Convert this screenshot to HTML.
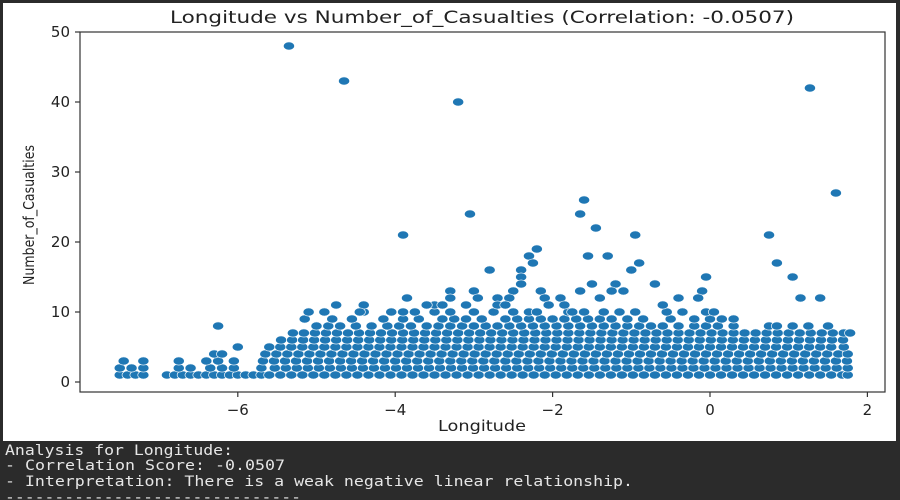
<!DOCTYPE html>
<html><head><meta charset="utf-8"><style>
html,body{margin:0;padding:0;width:900px;height:500px;overflow:hidden;background:#2b2b2b}
svg{display:block}
</style></head><body>
<svg width="900" height="500" viewBox="0 0 900 500" xmlns="http://www.w3.org/2000/svg">
<rect x="0" y="0" width="900" height="500" fill="#2b2b2b"/>
<rect x="3" y="3" width="893" height="438" fill="#ffffff"/>
<text x="170" y="23" textLength="624" lengthAdjust="spacingAndGlyphs" font-family="DejaVu Sans, Liberation Sans, sans-serif" font-size="17" fill="#222">Longitude vs Number_of_Casualties (Correlation: -0.0507)</text>
<g id="points"></g>
<rect x="80" y="32" width="805" height="360" fill="none" stroke="#333" stroke-width="1.2"/>
<g id="axes"></g>
<text x="438" y="431" textLength="88" lengthAdjust="spacingAndGlyphs" font-family="DejaVu Sans, Liberation Sans, sans-serif" font-size="15" fill="#222">Longitude</text>
<text transform="translate(34,285) rotate(-90)" textLength="140" lengthAdjust="spacingAndGlyphs" font-family="DejaVu Sans, Liberation Sans, sans-serif" font-size="15" fill="#222">Number_of_Casualties</text>
<g font-family="DejaVu Sans Mono, Liberation Mono, monospace" font-size="14" fill="#e6e6e6">
<text x="5" y="455" textLength="228" lengthAdjust="spacingAndGlyphs">Analysis for Longitude:</text>
<text x="5" y="470" textLength="280" lengthAdjust="spacingAndGlyphs">- Correlation Score: -0.0507</text>
<text x="5" y="486" textLength="628" lengthAdjust="spacingAndGlyphs">- Interpretation: There is a weak negative linear relationship.</text>
<text x="5" y="502" textLength="296" lengthAdjust="spacingAndGlyphs">------------------------------</text>
</g>
</svg>
<script>
const xTicks=[-6,-4,-2,0,2];
const yTicks=[0,10,20,30,40,50];
const row1=[-7.5,-7.4,-7.3,-7.2,-6.9,-6.8,-6.7,-6.6,-6.5,-6.4,-6.3,-6.2,-6.1,-6.0,-5.9,-5.8,-5.7,-5.6,-5.46,-5.32,-5.18,-5.04,-4.9,-4.76,-4.62,-4.48,-4.34,-4.2,-4.06,-3.92,-3.78,-3.64,-3.5,-3.36,-3.22,-3.08,-2.94,-2.8,-2.66,-2.52,-2.38,-2.24,-2.1,-1.96,-1.82,-1.68,-1.54,-1.4,-1.26,-1.12,-0.98,-0.84,-0.7,-0.56,-0.42,-0.28,-0.14,0,0.14,0.28,0.42,0.56,0.7,0.84,0.98,1.12,1.26,1.4,1.54,1.68,1.75];
const row2=[-7.5,-7.35,-7.2,-6.75,-6.6,-6.35,-6.2,-6.05,-5.7,-5.53,-5.39,-5.25,-5.11,-4.97,-4.83,-4.69,-4.55,-4.41,-4.27,-4.13,-3.99,-3.85,-3.71,-3.57,-3.43,-3.29,-3.15,-3.01,-2.87,-2.73,-2.59,-2.45,-2.31,-2.17,-2.03,-1.89,-1.75,-1.61,-1.47,-1.33,-1.19,-1.05,-0.91,-0.77,-0.63,-0.49,-0.35,-0.21,-0.07,0.07,0.21,0.35,0.49,0.63,0.77,0.91,1.05,1.19,1.33,1.47,1.61,1.75];
const row3=[-7.45,-7.2,-6.75,-6.4,-6.25,-6.05,-5.68,-5.54,-5.4,-5.26,-5.12,-4.98,-4.84,-4.7,-4.56,-4.42,-4.28,-4.14,-4.0,-3.86,-3.72,-3.58,-3.44,-3.3,-3.16,-3.02,-2.88,-2.74,-2.6,-2.46,-2.32,-2.18,-2.04,-1.9,-1.76,-1.62,-1.48,-1.34,-1.2,-1.06,-0.92,-0.78,-0.64,-0.5,-0.36,-0.22,-0.08,0.06,0.2,0.34,0.48,0.62,0.76,0.9,1.04,1.18,1.32,1.46,1.6,1.74];
const row4=[-6.3,-6.2,-5.65,-5.51,-5.37,-5.23,-5.09,-4.95,-4.81,-4.67,-4.53,-4.39,-4.25,-4.11,-3.97,-3.83,-3.69,-3.55,-3.41,-3.27,-3.13,-2.99,-2.85,-2.71,-2.57,-2.43,-2.29,-2.15,-2.01,-1.87,-1.73,-1.59,-1.45,-1.31,-1.17,-1.03,-0.89,-0.75,-0.61,-0.47,-0.33,-0.19,-0.05,0.09,0.23,0.37,0.51,0.65,0.79,0.93,1.07,1.21,1.35,1.49,1.63,1.75];
const row5=[-6.0,-5.6,-5.46,-5.32,-5.18,-5.04,-4.9,-4.76,-4.62,-4.48,-4.34,-4.2,-4.06,-3.92,-3.78,-3.64,-3.5,-3.36,-3.22,-3.08,-2.94,-2.8,-2.66,-2.52,-2.38,-2.24,-2.1,-1.96,-1.82,-1.68,-1.54,-1.4,-1.26,-1.12,-0.98,-0.84,-0.7,-0.56,-0.42,-0.28,-0.14,0,0.14,0.28,0.42,0.56,0.7,0.84,0.98,1.12,1.26,1.4,1.54,1.7];
const row6=[-5.45,-5.31,-5.17,-5.03,-4.89,-4.75,-4.61,-4.47,-4.33,-4.19,-4.05,-3.91,-3.77,-3.63,-3.49,-3.35,-3.21,-3.07,-2.93,-2.79,-2.65,-2.51,-2.37,-2.23,-2.09,-1.95,-1.81,-1.67,-1.53,-1.39,-1.25,-1.11,-0.97,-0.83,-0.69,-0.55,-0.41,-0.27,-0.13,0.01,0.15,0.29,0.43,0.57,0.71,0.85,0.99,1.13,1.27,1.41,1.55,1.69];
const row7=[-5.3,-5.16,-5.02,-4.88,-4.74,-4.6,-4.46,-4.32,-4.18,-4.04,-3.9,-3.76,-3.62,-3.48,-3.34,-3.2,-3.06,-2.92,-2.78,-2.64,-2.5,-2.36,-2.22,-2.08,-1.94,-1.8,-1.66,-1.52,-1.38,-1.24,-1.1,-0.96,-0.82,-0.68,-0.54,-0.4,-0.26,-0.12,0.02,0.16,0.3,0.44,0.58,0.72,0.86,1.0,1.14,1.28,1.42,1.56,1.7,1.78];
const row8=[-6.25,-5.0,-4.85,-4.7,-4.5,-4.3,-4.1,-3.95,-3.8,-3.6,-3.45,-3.3,-3.15,-3.0,-2.85,-2.7,-2.55,-2.4,-2.25,-2.1,-1.95,-1.8,-1.65,-1.5,-1.35,-1.2,-1.05,-0.9,-0.75,-0.6,-0.4,-0.2,-0.05,0.1,0.3,0.75,0.85,1.05,1.25,1.5];
const row9=[-5.15,-4.8,-4.55,-4.15,-3.9,-3.7,-3.4,-3.25,-3.1,-2.9,-2.6,-2.45,-2.3,-2.15,-2.0,-1.85,-1.7,-1.55,-1.4,-1.25,-1.05,-0.85,-0.5,-0.2,0.0,0.15,0.3];
const row10=[-5.1,-4.9,-4.4,-4.05,-3.9,-3.75,-3.5,-3.3,-3.0,-2.75,-2.5,-2.3,-2.2,-1.8,-1.6,-1.35,-1.15,-0.95,-0.55,-0.35,-0.05,0.05];
const outX=[-5.35,-4.65,-3.2,1.27,-3.05,-3.9,-1.6,-1.65,-1.45,-0.95,0.75,1.6,-2.2,-2.3,-2.25,-1.55,-1.3,-0.9,-1.0,-2.8,-2.4,-2.4,-2.4,-1.5,-1.2,-1.25,-0.7,-0.05,0.85,1.05,1.15,1.4,-0.1,-0.15,-0.4,-1.65,-1.1,-1.4,-1.9,-2.15,-2.1,-2.5,-3.3,-3.3,-3.0,-2.95,-2.7,-3.5,-3.85,-4.4,-4.45,-3.6,-3.4,-2.7,-3.1,-2.55,-2.6,-6.25,-4.75,-1.85,-0.6,-1.75,-2.05];
const outY=[48,43,40,42,24,21,26,24,22,21,21,27,19,18,17,18,18,17,16,16,16,15,14,14,14,13,14,15,17,15,12,12,13,12,12,13,13,12,12,13,12,13,13,12,13,12,12,11,12,11,10,11,11,11,11,12,11,8,11,11,11,10,11];
const rows=[row1,row2,row3,row4,row5,row6,row7,row8,row9,row10];
const X=v=>710+v*78.7;
const Y=v=>382-v*7;
const NS='http://www.w3.org/2000/svg';
const pg=document.getElementById('points');
function dot(lon,c){
  const e=document.createElementNS(NS,'ellipse');
  
  
  e.setAttribute('cx',X(lon));e.setAttribute('cy',Y(c));
  e.setAttribute('rx',5.6);e.setAttribute('ry',4.1);
  e.setAttribute('fill','#1f77b4');e.setAttribute('stroke','#ffffff');e.setAttribute('stroke-width','0.6');
  pg.appendChild(e);
}
rows.forEach((r,i)=>r.forEach(lon=>dot(lon,i+1)));
outX.forEach((lon,i)=>dot(lon,outY[i]));
const ax=document.getElementById('axes');
function line(x1,y1,x2,y2,name){
  const l=document.createElementNS(NS,'line');
  
  
  l.setAttribute('x1',x1);l.setAttribute('y1',y1);l.setAttribute('x2',x2);l.setAttribute('y2',y2);
  l.setAttribute('stroke','#333');l.setAttribute('stroke-width','1.2');
  ax.appendChild(l);
}
function label(x,y,t,anchor,name){
  const s=document.createElementNS(NS,'text');
  
  
  s.setAttribute('x',x);s.setAttribute('y',y);s.setAttribute('text-anchor',anchor);
  s.setAttribute('font-family','DejaVu Sans, Liberation Sans, sans-serif');s.setAttribute('font-size','15');s.setAttribute('fill','#222');
  s.textContent=t;ax.appendChild(s);
}
xTicks.forEach(v=>{line(X(v),392,X(v),397,'x-tick');label(X(v),415,v<0?'\u2212'+Math.abs(v):String(v),'middle','x-tick-label');});
yTicks.forEach(v=>{line(75,Y(v),80,Y(v),'y-tick');label(70,Y(v)+5,String(v),'end','y-tick-label');});
</script>
</body></html>
